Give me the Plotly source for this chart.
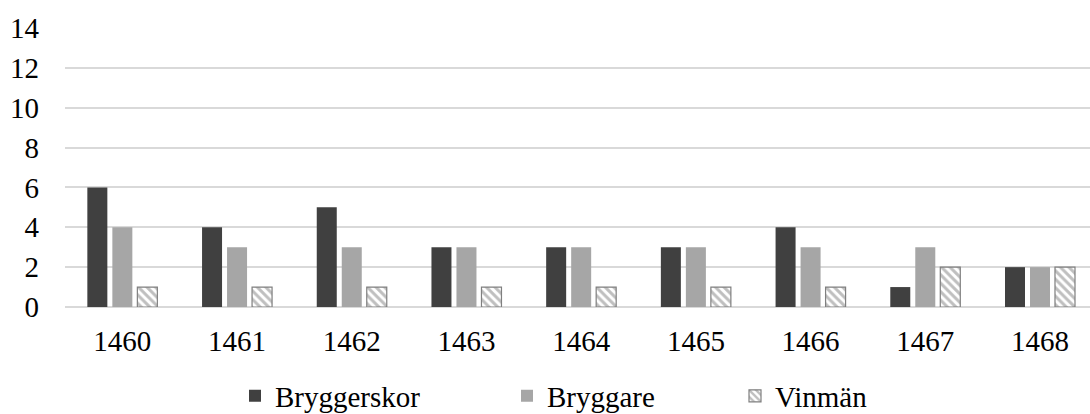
import plotly.graph_objects as go

years = ["1460", "1461", "1462", "1463", "1464", "1465", "1466", "1467", "1468"]
bryggerskor = [6, 4, 5, 3, 3, 3, 4, 1, 2]
bryggare = [4, 3, 3, 3, 3, 3, 3, 3, 2]
vinman = [1, 1, 1, 1, 1, 1, 1, 2, 2]
y_ticks = [0, 2, 4, 6, 8, 10, 12, 14]

FONT = "Liberation Serif, Times New Roman, serif"
TXT = "#000000"
FS = 29

W, H = 1090, 414
L, R, T, B = 65, 0, 27, 107

fig = go.Figure()
fig.add_trace(go.Bar(x=years, y=bryggerskor, name="Bryggerskor",
                     marker=dict(color="#404040", line=dict(width=0)),
                     legend="legend"))
fig.add_trace(go.Bar(x=years, y=bryggare, name="Bryggare",
                     marker=dict(color="#a6a6a6", line=dict(width=0)),
                     legend="legend2"))
fig.add_trace(go.Bar(x=years, y=vinman, name="Vinmän",
                     marker=dict(color="white",
                                 line=dict(color="#7f7f7f", width=1.2),
                                 pattern=dict(shape="\\", fgcolor="#7f7f7f",
                                              bgcolor="white", size=6,
                                              solidity=0.5)),
                     legend="legend3"))

leg_common = dict(orientation="h", yanchor="middle", xanchor="left",
                  xref="container", yref="container",
                  font=dict(family=FONT, size=FS, color=TXT),
                  bgcolor="rgba(0,0,0,0)", itemwidth=30, borderwidth=0)
ly = (H - 396) / H
fig.update_layout(
    width=W, height=H,
    margin=dict(l=L, r=R, t=T, b=B, autoexpand=False),
    paper_bgcolor="white", plot_bgcolor="white",
    barmode="group", bargap=0.346, bargroupgap=0.2,
    showlegend=True,
    font=dict(family=FONT, size=FS, color=TXT),
    legend=dict(x=235 / W, y=ly, **leg_common),
    legend2=dict(x=507 / W, y=ly, **leg_common),
    legend3=dict(x=735 / W, y=ly, **leg_common),
    xaxis=dict(type="category", range=[-0.5, 8.436], showgrid=False,
               showline=False, ticks="", ticklabelstandoff=14,
               automargin=False,
               tickfont=dict(family=FONT, size=FS, color=TXT)),
    yaxis=dict(range=[0, 14.05], tickvals=y_ticks, showgrid=True,
               gridcolor="#d9d9d9", gridwidth=1.5, zeroline=True,
               zerolinecolor="#d9d9d9", zerolinewidth=1.5,
               showline=False, ticks="", ticklabelstandoff=25,
               automargin=False,
               tickfont=dict(family=FONT, size=FS, color=TXT)),
)

fig.write_html("out.html",
               config={"displayModeBar": False},
               post_script="document.body.style.margin='0';"
                           "document.body.style.overflow='hidden';")
